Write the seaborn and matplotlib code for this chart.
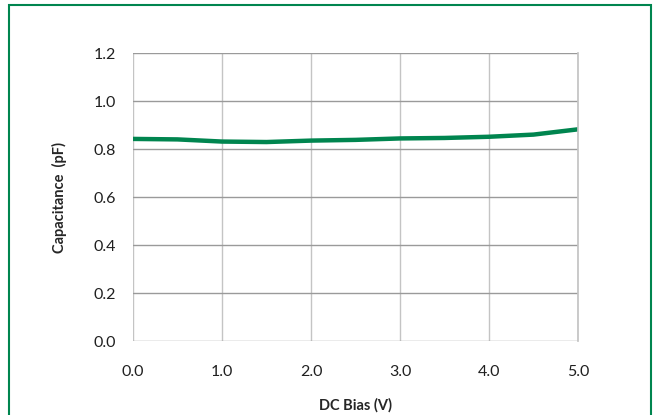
import pandas as pd
import seaborn as sns
import matplotlib.pyplot as plt
from matplotlib.patches import Rectangle

# values
bias = [0.0, 0.5, 1.0, 1.5, 2.0, 2.5, 3.0, 3.5, 4.0, 4.5, 5.0]
cap = [0.842, 0.840, 0.831, 0.829, 0.835, 0.838, 0.844, 0.846, 0.851, 0.860, 0.882]
xticks = [0.0, 1.0, 2.0, 3.0, 4.0, 5.0]
yticks = [0.0, 0.2, 0.4, 0.6, 0.8, 1.0, 1.2]

df = pd.DataFrame({'bias': bias, 'cap': cap})

sns.set_theme(style='white')
plt.rcParams['font.family'] = ['Lato', 'DejaVu Sans']

fig = plt.figure(figsize=(6.56, 4.15), dpi=100)
ax = fig.add_axes([133 / 656, 1 - 341 / 415, (578 - 133) / 656, (341 - 53) / 415])

sns.lineplot(data=df, x='bias', y='cap', ax=ax, color='#00854f', linewidth=3.2)

ax.set_xlim(0, 5)
ax.set_ylim(0, 1.2)
ax.set_xticks(xticks)
ax.set_yticks(yticks)
ax.set_xticklabels([f'{v:.1f}' for v in xticks], fontsize=11.5, color='#202020')
ax.set_yticklabels([f'{v:.1f}' for v in yticks], fontsize=11.5, color='#202020')

ax.grid(axis='y', color='#9a9a9a', linewidth=1.0)
ax.grid(axis='x', color='#c4c4c4', linewidth=1.0)
for s in ax.spines.values():
    s.set_visible(False)
ax.spines['right'].set_visible(True)
ax.spines['right'].set_color('#c4c4c4')
ax.tick_params(axis='both', length=5, width=0.8, color='#9a9a9a', direction='out')
ax.tick_params(axis='x', pad=12)
ax.tick_params(axis='y', pad=7)

ax.set_xlabel('DC Bias (V)', fontsize=10.5, fontweight='bold', labelpad=14)
ax.set_ylabel('Capacitance  (pF)', fontsize=10.5, fontweight='bold', labelpad=19)

# green chart border
fig.patches.append(Rectangle((9 / 656, -0.1), (651 - 9) / 656, 1.1 - 5 / 415,
                             transform=fig.transFigure, fill=False,
                             edgecolor='#00854f', linewidth=1.5))

fig.savefig('out.png', dpi=100)
